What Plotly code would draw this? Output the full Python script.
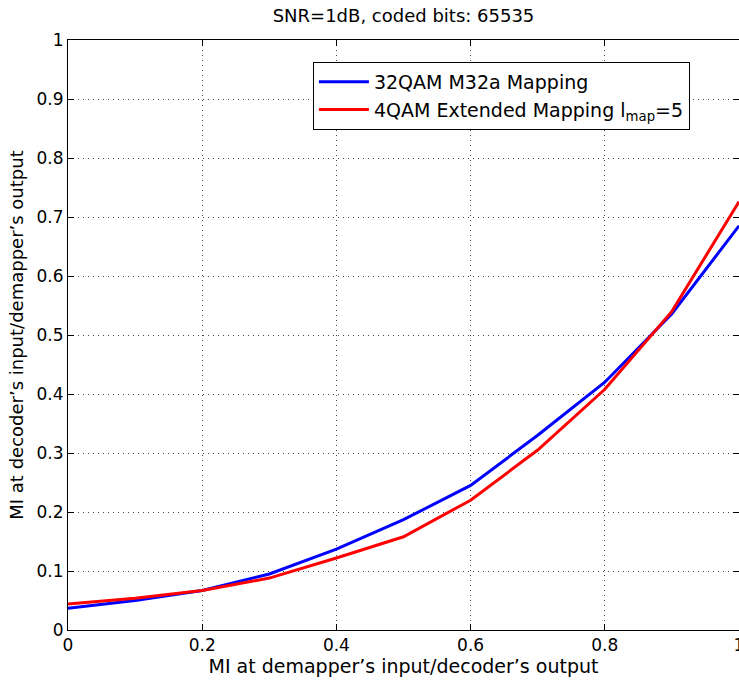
import plotly.graph_objects as go

x_vals = [0, 0.1, 0.2, 0.3, 0.4, 0.5, 0.6, 0.7, 0.8, 0.9, 1.0]
blue_vals = [0.037, 0.050, 0.067, 0.095, 0.137, 0.187, 0.245, 0.330, 0.420, 0.536, 0.685]
red_vals = [0.044, 0.054, 0.067, 0.088, 0.122, 0.158, 0.220, 0.305, 0.408, 0.540, 0.726]
x_ticks = [0, 0.2, 0.4, 0.6, 0.8, 1]
x_ticklabels = ["0", "0.2", "0.4", "0.6", "0.8", "1"]
y_ticks = [0, 0.1, 0.2, 0.3, 0.4, 0.5, 0.6, 0.7, 0.8, 0.9, 1]
y_ticklabels = ["0", "0.1", "0.2", "0.3", "0.4", "0.5", "0.6", "0.7", "0.8", "0.9", "1"]

FONT = "DejaVu Sans, Arial, sans-serif"

fig = go.Figure()
fig.add_trace(go.Scatter(x=x_vals, y=blue_vals, mode="lines",
                         line=dict(color="#0000ff", width=3),
                         name="32QAM M32a Mapping"))
fig.add_trace(go.Scatter(x=x_vals, y=red_vals, mode="lines",
                         line=dict(color="#ff0000", width=3),
                         name="4QAM Extended Mapping l<sub>map</sub>=5"))

axis_common = dict(
    showline=True, linecolor="black", linewidth=1, mirror="allticks",
    ticks="inside", ticklen=6, tickcolor="black",
    showgrid=True, gridcolor="#444444", griddash="1px,4px", gridwidth=1,
    zeroline=False, tickfont=dict(family=FONT, size=17, color="black"),
    ticklabeloverflow="allow", automargin=False,
)

fig.update_layout(
    width=739, height=687,
    margin=dict(l=68, r=0, t=40, b=57),
    paper_bgcolor="white", plot_bgcolor="white",
    font=dict(family=FONT, color="black"),
    title=dict(text="SNR=1dB, coded bits: 65535", x=0.5, xanchor="center",
               xref="paper", y=1 - 16 / 687, yanchor="middle",
               font=dict(family=FONT, size=18, color="black")),
    xaxis=dict(range=[0, 1], tickvals=x_ticks, ticktext=x_ticklabels,
               title=dict(text="MI at demapper’s input/decoder’s output",
                          font=dict(family=FONT, size=19), standoff=2),
               **axis_common),
    yaxis=dict(range=[0, 1], tickvals=y_ticks, ticktext=y_ticklabels,
               title=dict(text="MI at decoder’s input/demapper’s output",
                          font=dict(family=FONT, size=18), standoff=8),
               **axis_common),
    legend=dict(x=0.365, y=0.963, xanchor="left", yanchor="top",
                bgcolor="white", bordercolor="black", borderwidth=1,
                font=dict(family=FONT, size=19, color="black"),
                tracegroupgap=0, itemwidth=50),
    showlegend=True,
)

fig.write_html("out.html")
